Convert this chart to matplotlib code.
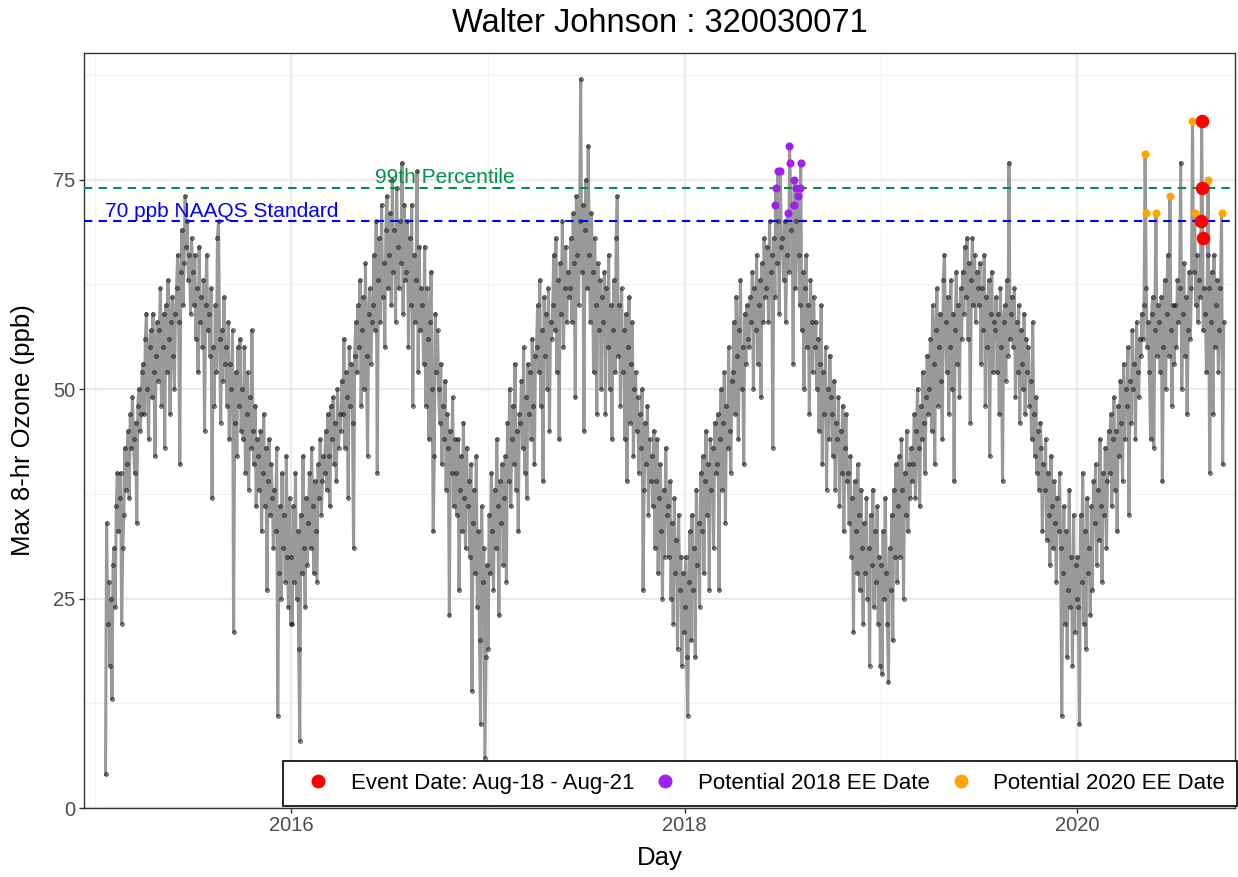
import pandas as pd
import matplotlib
matplotlib.use("Agg")
import matplotlib.pyplot as plt
from matplotlib.lines import Line2D

plt.rcParams['font.family'] = ['Liberation Sans', 'DejaVu Sans']

# ===== dados: ozonio max 8h (ppb), um valor a cada 2 dias =====
o3_2015 = [4, 34, 22, 27, 17, 25,
           13, 29, 31, 24, 36, 40, 33, 37, 40, 22, 31, 35, 43, 38,
           41, 45, 37, 47, 43, 49, 44, 40, 46, 34, 48, 50, 45, 47, 52,
           53, 47, 56, 59, 50, 44, 55, 57, 49, 59, 52, 42, 54, 58, 51,
           57, 62, 48, 55, 59, 43, 60, 52, 63, 56, 47, 58, 61, 54, 50, 59,
           62, 66, 58, 41, 64, 69, 60, 65, 73, 67, 70, 63, 66, 59, 68,
           64, 60, 66, 56, 62, 52, 67, 58, 61, 55, 63, 45, 60, 66, 57,
           59, 54, 62, 37, 55, 48, 60, 52, 68, 70, 56, 46, 57, 51, 61, 53,
           55, 48, 58, 44, 53, 50, 57, 21, 46, 52, 42, 55, 48, 56, 45,
           50, 44, 55, 40, 47, 52, 38, 49, 43, 57, 45, 41, 48, 36, 44,
           42, 38, 45, 33, 40, 47, 36, 43, 26, 39, 44, 35, 41, 37, 31,
           38, 33, 43, 11, 28, 36, 25, 40, 31, 35, 27, 42, 30, 24, 37, 22]
o3_2016 = [30, 22, 36, 27, 40, 25, 33, 19, 8, 35, 28, 42, 31, 24, 37, 29,
           34, 40, 31, 43, 36, 28, 39, 33, 27, 41, 37, 44, 35, 39,
           42, 40, 45, 38, 47, 42, 36, 48, 44, 49, 41, 46, 39, 50, 43, 47,
           45, 51, 47, 56, 43, 52, 49, 37, 55, 48, 53, 46, 31, 54, 58,
           52, 60, 55, 63, 48, 57, 61, 50, 65, 54, 42, 59, 62, 53, 58,
           60, 66, 57, 70, 40, 63, 68, 58, 72, 61, 65, 55, 69, 73, 62,
           66, 71, 60, 75, 64, 69, 58, 74, 67, 62, 70, 65, 77, 59, 72, 63,
           64, 70, 55, 68, 60, 72, 48, 66, 58, 63, 76, 52, 67, 57, 62,
           60, 53, 67, 48, 62, 56, 44, 58, 64, 50, 33, 42, 59, 52, 57,
           50, 46, 53, 41, 48, 44, 51, 38, 47, 43, 23, 45, 40, 49, 36, 44,
           40, 35, 44, 26, 38, 42, 33, 46, 37, 31, 43, 36, 39, 30, 41,
           14, 34, 38, 28, 42, 24, 33, 20, 10, 36, 27, 31, 6, 18, 29]
o3_2017 = [19, 35, 28, 40, 33, 26, 38, 31, 44, 36, 23, 39, 34, 41, 29, 37,
           42, 27, 46, 39, 50, 36, 44, 48, 41, 53, 38, 45, 33, 47,
           46, 51, 43, 55, 40, 49, 37, 53, 47, 52, 44, 56, 48, 41, 54,
           55, 60, 52, 63, 48, 57, 39, 61, 54, 59, 50, 62, 45, 58, 56,
           60, 66, 57, 68, 52, 63, 44, 65, 59, 70, 55, 62, 67, 58, 64, 61,
           62, 68, 58, 71, 65, 49, 73, 66, 60, 70, 87, 64, 72, 45, 69,
           75, 62, 79, 66, 58, 71, 64, 52, 68, 60, 47, 65, 57, 63, 50,
           61, 58, 64, 47, 62, 55, 66, 50, 60, 44, 57, 63, 52, 68, 73, 54,
           60, 48, 62, 52, 57, 44, 59, 39, 55, 61, 46, 53, 58, 42, 50,
           52, 45, 49, 40, 47, 43, 50, 26, 38, 46, 41, 48, 35, 44, 39,
           42, 36, 45, 31, 39, 44, 28, 37, 41, 33, 25, 38, 30, 43, 35,
           36, 30, 39, 25, 34, 22, 37, 28, 32, 19, 35, 26, 30, 17, 28, 21]
o3_2018 = [24, 30, 18, 11, 27, 33, 20, 35, 26, 31, 18, 38, 29, 34, 24, 40,
           33, 42, 28, 39, 45, 35, 41, 26, 44, 38, 43, 31, 46, 40,
           41, 47, 26, 44, 50, 38, 46, 52, 34, 48, 43, 55, 45, 40, 51,
           52, 58, 47, 61, 54, 44, 57, 63, 50, 55, 41, 59, 53, 60, 56,
           55, 61, 58, 64, 50, 62, 57, 66, 53, 60, 63, 49, 65, 58, 68, 61,
           62, 67, 58, 70, 64, 66, 43, 68, 61, 74, 65, 70, 59, 76, 67,
           68, 63, 70, 58, 66, 71, 64, 60, 69, 72, 53, 67, 62, 70, 65,
           66, 60, 68, 57, 64, 50, 62, 66, 55, 60, 47, 63, 58, 52, 61, 55,
           58, 50, 56, 45, 53, 60, 41, 52, 47, 55, 38, 50, 44, 54, 49,
           47, 42, 51, 38, 46, 44, 49, 36, 45, 40, 48, 33, 43, 47, 39,
           40, 34, 42, 30, 37, 21, 39, 33, 28, 41, 35, 26, 38, 31, 22,
           34, 28, 37, 25, 31, 17, 35, 29, 38, 24, 33, 27, 36, 22, 30, 17]
o3_2019 = [29, 16, 33, 25, 37, 28, 22, 15, 31, 26, 35, 20, 38, 30, 41, 27,
           36, 42, 30, 44, 38, 25, 40, 35, 45, 33, 41, 37, 43, 39,
           41, 47, 37, 45, 50, 43, 36, 48, 44, 52, 46, 40, 49, 54, 47,
           50, 56, 45, 60, 53, 41, 57, 62, 48, 55, 59, 51, 44, 63, 66,
           58, 52, 61, 47, 55, 63, 50, 59, 39, 57, 64, 53, 60, 49, 62, 56,
           64, 59, 67, 61, 68, 56, 65, 46, 63, 68, 60, 66, 58, 64, 62,
           60, 65, 53, 62, 57, 66, 48, 61, 55, 63, 42, 59, 64, 52, 58,
           57, 61, 52, 59, 47, 62, 55, 39, 58, 60, 51, 63, 54, 77, 56, 59,
           61, 55, 62, 49, 58, 52, 60, 46, 57, 53, 50, 59, 47, 56, 52,
           55, 48, 51, 44, 58, 47, 42, 49, 40, 45, 38, 46, 43, 33, 41,
           38, 44, 32, 40, 35, 29, 42, 36, 31, 39, 34, 27, 37, 33, 40,
           31, 11, 28, 36, 22, 33, 18, 26, 38, 24, 30, 17, 35, 21, 29, 25]
o3_2020 = [30, 24, 10, 35, 27, 40, 22, 33, 19, 37, 28, 31, 23, 36, 26, 39,
           34, 41, 29, 38, 32, 44, 36, 27, 40, 35, 43, 31, 39, 45,
           40, 47, 36, 44, 49, 38, 45, 33, 48, 42, 51, 46, 39, 53, 44, 50,
           48, 55, 35, 51, 46, 57, 50, 53, 44, 58, 52, 49, 56, 54, 59,
           56, 60, 78, 62, 55, 58, 52, 44, 59, 61, 43, 57, 71, 54, 60,
           58, 52, 61, 39, 55, 63, 50, 59, 66, 54, 73, 57, 48, 60, 53,
           60, 55, 63, 58, 62, 77, 50, 59, 65, 54, 61, 47, 57, 64, 56, 62,
           82, 64, 71, 60, 66, 58, 63, 61, 70, 74, 57, 62, 59, 52, 66,
           62, 40, 58, 64, 47, 66, 55, 60, 63, 52, 57, 62, 71, 41, 58]
inicio_anos = ['2015-01-21', '2016-01-01', '2017-01-01', '2018-01-01', '2019-01-01', '2020-01-01']

# datas destacadas
ee2018_datas = ['2018-06-19', '2018-06-20', '2018-06-23', '2018-06-28', '2018-07-13',
                '2018-07-15', '2018-07-16', '2018-07-23', '2018-07-24', '2018-07-27',
                '2018-07-30', '2018-08-04', '2018-08-05']
ee2018_vals = [72, 74, 76, 76, 71, 79, 77, 72, 75, 74, 73, 74, 77]
ee2020_datas = ['2020-05-06', '2020-05-07', '2020-05-26', '2020-06-21',
                '2020-08-02', '2020-08-06', '2020-08-31', '2020-09-25']
ee2020_vals = [78, 71, 71, 73, 82, 71, 75, 71]
evento_datas = ['2020-08-18', '2020-08-19', '2020-08-20', '2020-08-21']
evento_vals = [70, 82, 74, 68]

naaqs = 70
p99 = 74

# === montar serie ===
def serie_ano(inicio, valores):
    return pd.Series(valores, index=pd.date_range(inicio, periods=len(valores), freq='2D'))

partes = [serie_ano(i, v) for i, v in zip(inicio_anos, [o3_2015, o3_2016, o3_2017, o3_2018, o3_2019, o3_2020])]
ee18 = pd.Series(ee2018_vals, index=pd.to_datetime(ee2018_datas))
ee20 = pd.Series(ee2020_vals, index=pd.to_datetime(ee2020_datas))
evt = pd.Series(evento_vals, index=pd.to_datetime(evento_datas))
serie = pd.concat(partes + [ee18, ee20, evt])
serie = serie[~serie.index.duplicated(keep='last')].sort_index()

# === grafico ===
verde = '#00914A'
fig = plt.figure(figsize=(12.38, 8.77), dpi=100)
ax = fig.add_axes([84 / 1238, 1 - 808 / 877, 1151 / 1238, 755 / 877])

ax.plot(serie.index, serie.values, color='#999999', lw=2.2, zorder=2)
ax.plot(serie.index, serie.values, 'o', ms=2.8, mfc=(0, 0, 0, 0.4), mec=(0, 0, 0, 0.65),
        mew=0.5, zorder=3)

ax.scatter(ee18.index, ee18.values, s=34, color='#A020F0', zorder=4, linewidths=0)
ax.scatter(ee20.index, ee20.values, s=34, color='#FFA500', zorder=4, linewidths=0)
ax.scatter(evt.index, evt.values, s=95, color='red', zorder=5, linewidths=0)

ax.axhline(p99, color=verde, ls=(0, (4, 3)), lw=1.5, zorder=3)
ax.axhline(naaqs, color='blue', ls=(0, (4, 3)), lw=1.5, zorder=3)
ax.text(pd.Timestamp('2016-06-05'), 75.3, '99th Percentile', color=verde, fontsize=15,
        va='center', ha='left', zorder=4)
ax.text(pd.Timestamp('2015-01-20'), 71.2, '70 ppb NAAQS Standard', color='blue', fontsize=15,
        va='center', ha='left', zorder=4)

ax.set_xlim(pd.Timestamp('2014-12-12'), pd.Timestamp('2020-10-20'))
ax.set_ylim(0, 90.1)
ax.set_yticks([0, 25, 50, 75])
ax.set_yticks([12.5, 37.5, 62.5, 87.5], minor=True)
ax.set_xticks(pd.to_datetime(['2016-01-01', '2018-01-01', '2020-01-01']))
ax.set_xticklabels(['2016', '2018', '2020'])
ax.set_xticks(pd.to_datetime(['2015-01-01', '2017-01-01', '2019-01-01']), minor=True)

ax.grid(which='major', color='#EBEBEB', lw=1.6, zorder=0)
ax.grid(which='minor', color='#F2F2F2', lw=0.9, zorder=0)
ax.set_axisbelow(True)
ax.tick_params(which='major', length=3.5, width=1, color='#333333', labelsize=14.5,
               labelcolor='#4D4D4D', pad=2.5)
ax.tick_params(which='minor', length=0)
for sp in ax.spines.values():
    sp.set_color('#333333')
    sp.set_linewidth(1.0)

ax.set_xlabel('Day', fontsize=18.5)
ax.set_ylabel('Max 8-hr Ozone (ppb)', fontsize=18.5)
ax.xaxis.set_label_coords(0.5, -0.050)
ax.yaxis.set_label_coords(-0.0425, 0.5)
fig.text(660 / 1238, 1 - 23 / 877, 'Walter Johnson : 320030071', fontsize=23.5,
         ha='center', va='center')

handles = [
    Line2D([], [], ls='none', marker='o', ms=9, color='red'),
    Line2D([], [], ls='none', marker='o', ms=9, color='#A020F0'),
    Line2D([], [], ls='none', marker='o', ms=9, color='#FFA500'),
]
rotulos = ['Event Date: Aug-18 - Aug-21', 'Potential 2018 EE Date', 'Potential 2020 EE Date']
leg = ax.legend(handles, rotulos, ncol=3, loc='lower right', bbox_to_anchor=(1.0015, 0.002),
                fontsize=16, frameon=True, fancybox=False, framealpha=1, borderpad=0.55,
                handlelength=2.1, handletextpad=0.4, columnspacing=0.35, borderaxespad=0)
leg.get_frame().set_edgecolor('black')
leg.get_frame().set_linewidth(1.2)
leg.set_zorder(10)

fig.savefig('out.png', dpi=100)
